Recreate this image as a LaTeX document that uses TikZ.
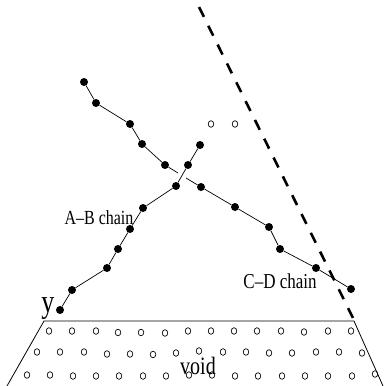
\documentclass[tikz,border=0pt]{standalone}
\usepackage{fontspec}
\setmainfont{Liberation Serif}
\usetikzlibrary{shapes.geometric}
\newcommand{\tallt}[2]{\scalebox{1}[1.25]{\fontsize{#1}{#1}\selectfont #2}}
\begin{document}
\begin{tikzpicture}[x=1pt,y=-1pt,
  dot/.style={circle,fill=black,inner sep=0pt,minimum size=8pt},
  hole/.style={draw=black,line width=0.7pt,ellipse,inner sep=0pt,minimum width=5.6pt,minimum height=6.6pt},
  chainline/.style={line width=0.7pt},
  wall/.style={line width=0.8pt},
  bound/.style={line width=2.6pt,dash pattern=on 11pt off 10pt},
  lbl/.style={inner sep=0pt,anchor=base}]
\useasboundingbox (0,0) rectangle (385,386);
% dashed boundary
\coordinate (dt) at (199,7);
\coordinate (db) at (353,318);
\draw[bound] (dt) -- (db);
% C-D chain
\node[dot] (c1) at (84,82) {};
\node[dot] (c2) at (96,103) {};
\node[dot] (c3) at (130,124) {};
\node[dot] (c4) at (142,144) {};
\node[dot] (c5) at (165,165) {};
\coordinate (g1) at (178,173);
\coordinate (g2) at (186,178);
\node[dot] (c6) at (201,187) {};
\node[dot] (c7) at (235,207) {};
\node[dot] (c8) at (269,227) {};
\node[dot] (c9) at (280,249) {};
\node[dot] (c10) at (316,268) {};
\node[dot] (c11) at (351,289) {};
\draw[chainline] (c1)--(c2)--(c3)--(c4)--(c5)--(g1);
\draw[chainline] (g2)--(c6)--(c7)--(c8)--(c9)--(c10)--(c11);
% A-B chain
\node[dot] (a1) at (60,310) {};
\node[dot] (a2) at (72,290) {};
\node[dot] (a3) at (107,268) {};
\node[dot] (a4) at (118,249) {};
\node[dot] (a5) at (130,229) {};
\node[dot] (a6) at (143,208) {};
\node[dot] (a7) at (176,186) {};
\node[dot] (a8) at (188,165) {};
\node[dot] (a9) at (200,145) {};
\draw[chainline] (a1)--(a2)--(a3)--(a4)--(a5)--(a6)--(a7)--(a8)--(a9);
% two free holes
\node[hole] (h1) at (211,124) {};
\node[hole] (h2) at (235,124) {};
% wall
\coordinate (wl) at (7,386);
\coordinate (wtl) at (44,321);
\coordinate (wtr) at (354,321);
\coordinate (wr) at (383,386);
\draw[wall] (wl)--(wtl)--(wtr)--(wr);
% holes in the wall
\foreach \x/\y in {49/331,72/331,96/331,118/332.5,141/332.5,165/333,188/331,211/331,234/331,257/331,281/331,304/332,328/331,351/331}
  \node[hole] at (\x,\y) {};
\foreach \x/\y in {37/352,60/352,84/352,107/354,130/354,153/354.5,176/353,199/351,223/352,246/352,269/353,292/353,316/352,339/352,362/353}
  \node[hole] at (\x,\y) {};
\foreach \x/\y in {27/375,50/375,73/376,96/376,119/376,143/376,166/376,189/375,212/375,235/376,258/376,282/376,305/376,328/376,352/376,375/374}
  \node[hole] at (\x,\y) {};
% labels
\node[lbl] (lab) at (99,224) {\tallt{16}{A–B chain}};
\node[lbl] (lcd) at (280,288) {\tallt{17}{C–D chain}};
\node[lbl] (ly) at (48,312) {\tallt{26}{y}};
\node[lbl] (lv) at (198,374) {\tallt{20}{void}};
\end{tikzpicture}
\end{document}
